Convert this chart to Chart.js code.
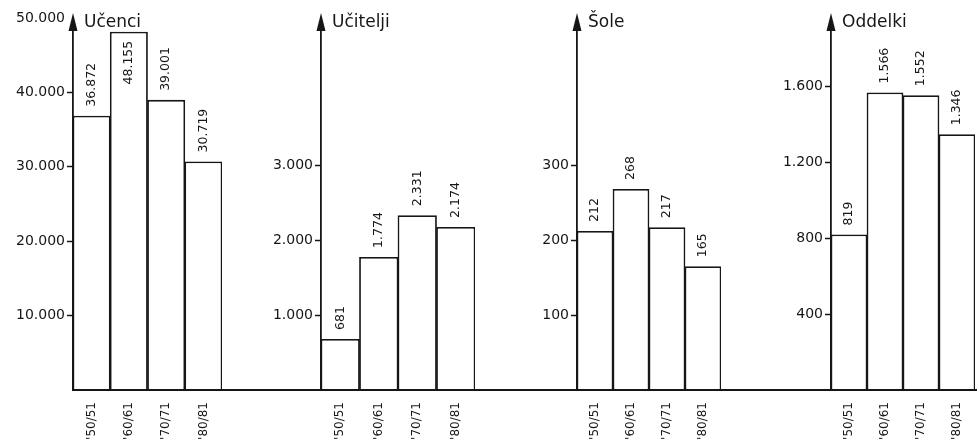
<!DOCTYPE html>
<html>
<head>
<meta charset="utf-8">
<script src="https://cdn.jsdelivr.net/npm/chart.js@4"></script>
<style>
  html, body { margin: 0; padding: 0; background: #fff; }
  #wrap { position: relative; width: 977px; height: 446px; overflow: hidden; }
  #wrap canvas { position: absolute; top: 0; }
</style>
</head>
<body>
<div id="wrap"></div>
<script>
// podatki
const categories = ["'50/51", "'60/61", "'70/71", "'80/81"];
const ucenci = [36872, 48155, 39001, 30719];
const ucitelji = [681, 1774, 2331, 2174];
const sole = [212, 268, 217, 165];
const oddelki = [819, 1566, 1552, 1346];

const ticksUcenci = [10000, 20000, 30000, 40000, 50000];
const ticksUcitelji = [1000, 2000, 3000];
const ticksSole = [100, 200, 300];
const ticksOddelki = [400, 800, 1200, 1600];

const titles = ['Učenci', 'Učitelji', 'Šole', 'Oddelki'];

const ink = '#161616';

// 36872 -> "36.872"
function fmt(v) {
    return String(v).replace(/\B(?=(\d{3})+(?!\d))/g, '.');
}

// postavitev posameznih grafov
const panels = [
    { title: titles[0], data: ucenci,   ticks: ticksUcenci,   max: 50000, left: 0,   width: 255, axis: 73, right: 33, baseFrom: 73 },
    { title: titles[1], data: ucitelji, ticks: ticksUcitelji, max: 4960,  left: 255, width: 255, axis: 66, right: 35, baseFrom: 0 },
    { title: titles[2], data: sole,     ticks: ticksSole,     max: 496,   left: 510, width: 255, axis: 67, right: 44, baseFrom: 0 },
    { title: titles[3], data: oddelki,  ticks: ticksOddelki,  max: 1958,  left: 765, width: 212, axis: 66, right: 2,  baseFrom: 0 }
];

const decorPlugin = {
    id: 'decor',
    afterDatasetsDraw(chart, args, opts) {
        const ctx = chart.ctx;
        const a = chart.chartArea;
        ctx.save();
        // osnovna crta
        ctx.strokeStyle = ink;
        ctx.lineWidth = 2;
        ctx.beginPath();
        ctx.moveTo(opts.baseFrom, a.bottom);
        ctx.lineTo(chart.width, a.bottom);
        ctx.stroke();
        // puscica na osi
        ctx.fillStyle = ink;
        ctx.beginPath();
        ctx.moveTo(a.left, 13);
        ctx.lineTo(a.left - 4.5, 31);
        ctx.lineTo(a.left + 4.5, 31);
        ctx.closePath();
        ctx.fill();
        // naslov
        ctx.font = '17px "DejaVu Sans"';
        ctx.textAlign = 'left';
        ctx.textBaseline = 'middle';
        ctx.fillText(opts.title, a.left + 11, 23);
        // vrednosti nad stolpci
        const meta = chart.getDatasetMeta(0);
        ctx.font = '12.5px "DejaVu Sans"';
        meta.data.forEach((bar, i) => {
            const txt = fmt(chart.data.datasets[0].data[i]);
            const w = ctx.measureText(txt).width;
            ctx.save();
            ctx.translate(bar.x, bar.y);
            ctx.rotate(-Math.PI / 2);
            if (bar.y - 8 - w < 4) {
                ctx.textAlign = 'right';
                ctx.fillText(txt, -9, 0);
            } else {
                ctx.textAlign = 'left';
                ctx.fillText(txt, 9, 0);
            }
            ctx.restore();
        });
        ctx.restore();
    }
};

const wrap = document.getElementById('wrap');

panels.forEach(p => {
    const canvas = document.createElement('canvas');
    canvas.width = p.width;
    canvas.height = 446;
    canvas.style.left = p.left + 'px';
    wrap.appendChild(canvas);

    new Chart(canvas.getContext('2d'), {
        type: 'bar',
        data: {
            labels: categories,
            datasets: [{
                data: p.data,
                backgroundColor: '#ffffff',
                borderColor: ink,
                borderWidth: 1.8,
                borderSkipped: 'start',
                categoryPercentage: 1,
                barPercentage: 1.02
            }]
        },
        options: {
            responsive: false,
            animation: false,
            devicePixelRatio: 1,
            layout: { padding: { left: 0, top: 18, right: p.right, bottom: 0 } },
            plugins: {
                legend: { display: false },
                tooltip: { enabled: false },
                decor: { title: p.title, baseFrom: p.baseFrom }
            },
            scales: {
                x: {
                    grid: { display: false },
                    border: { display: false },
                    ticks: {
                        color: ink,
                        font: { family: 'DejaVu Sans', size: 12 },
                        minRotation: 90,
                        maxRotation: 90,
                        padding: 4
                    },
                    afterFit(scale) { scale.height = 56; }
                },
                y: {
                    min: 0,
                    max: p.max,
                    afterBuildTicks(scale) {
                        scale.ticks = p.ticks.map(v => ({ value: v }));
                    },
                    afterFit(scale) { scale.width = p.axis; },
                    grid: {
                        drawOnChartArea: false,
                        drawTicks: true,
                        tickLength: 6,
                        tickWidth: 1.5,
                        tickColor: c => (c.tick && c.tick.value >= p.max) ? 'rgba(0,0,0,0)' : ink
                    },
                    border: { display: true, color: ink, width: 1.8 },
                    ticks: {
                        color: ink,
                        padding: 2,
                        font: { family: 'DejaVu Sans', size: 14 },
                        callback: v => fmt(v)
                    }
                }
            }
        },
        plugins: [decorPlugin]
    });
});
</script>
</body>
</html>
